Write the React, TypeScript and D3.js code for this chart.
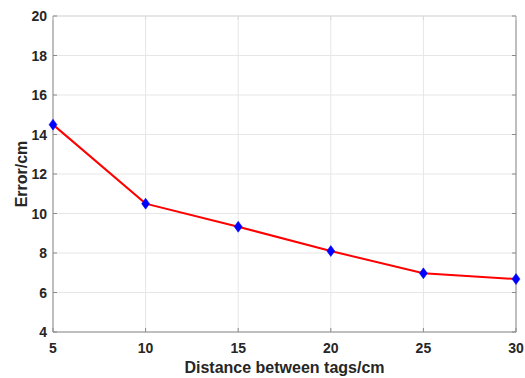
import React from 'react'
import * as d3 from 'd3'

const distances = [5, 10, 15, 20, 25, 30]
const errors = [14.5, 10.5, 9.33, 8.1, 6.97, 6.68]
const xTicks = [5, 10, 15, 20, 25, 30]
const yTicks = [4, 6, 8, 10, 12, 14, 16, 18, 20]

export default function App() {
  const W = 525
  const H = 378
  const margin = { top: 16, right: 9, bottom: 46, left: 53 }
  const iw = W - margin.left - margin.right
  const ih = H - margin.top - margin.bottom

  const x = d3.scaleLinear().domain([5, 30]).range([0, iw])
  const y = d3.scaleLinear().domain([4, 20]).range([ih, 0])

  const line = d3.line<number>()
    .x((d, i) => x(distances[i]))
    .y(d => y(d))

  const font = 'Arial, "Liberation Sans", sans-serif'

  return (
    <svg width={W} height={H} style={{ position: 'absolute', left: 0, top: 0, background: '#fff' }}>
      <g transform={`translate(${margin.left},${margin.top})`}>
        {/* grid */}
        {xTicks.map(t => (
          <line key={'gx' + t} x1={x(t)} x2={x(t)} y1={0} y2={ih} stroke="#e6e6e6" strokeWidth={1} />
        ))}
        {yTicks.map(t => (
          <line key={'gy' + t} x1={0} x2={iw} y1={y(t)} y2={y(t)} stroke="#e6e6e6" strokeWidth={1} />
        ))}
        {/* box */}
        <line x1={0} x2={iw} y1={0} y2={0} stroke="#d9d9d9" strokeWidth={1} />
        <line x1={iw} x2={iw} y1={0} y2={ih} stroke="#8a8a8a" strokeWidth={1} />
        <line x1={0} x2={0} y1={0} y2={ih} stroke="#8a8a8a" strokeWidth={1} />
        <line x1={0} x2={iw} y1={ih} y2={ih} stroke="#8a8a8a" strokeWidth={1} />
        {/* ticks */}
        {xTicks.map(t => (
          <g key={'tx' + t}>
            <line x1={x(t)} x2={x(t)} y1={ih} y2={ih - 4} stroke="#8a8a8a" />
            <line x1={x(t)} x2={x(t)} y1={0} y2={4} stroke="#d9d9d9" />
            <text x={x(t)} y={ih + 21} textAnchor="middle" fontFamily={font} fontWeight="bold" fontSize={14} fill="#262626">{t}</text>
          </g>
        ))}
        {yTicks.map(t => (
          <g key={'ty' + t}>
            <line x1={0} x2={4} y1={y(t)} y2={y(t)} stroke="#8a8a8a" />
            <line x1={iw} x2={iw - 4} y1={y(t)} y2={y(t)} stroke="#8a8a8a" />
            <text x={-6} y={y(t)} dy="0.36em" textAnchor="end" fontFamily={font} fontWeight="bold" fontSize={14} fill="#262626">{t}</text>
          </g>
        ))}
        {/* data */}
        <path d={line(errors) || ''} fill="none" stroke="#ff0000" strokeWidth={2} />
        {errors.map((e, i) => (
          <path key={'m' + i}
            d="M0,-5.5L4,0L0,5.5L-4,0Z"
            transform={`translate(${x(distances[i])},${y(e)})`}
            fill="#0000ff" stroke="#0000ff" strokeWidth={0.5} />
        ))}
      </g>
      <text x={margin.left + iw / 2} y={373} textAnchor="middle" fontFamily={font} fontWeight="bold" fontSize={16} fill="#262626">Distance between tags/cm</text>
      <text transform={`translate(27,${margin.top + ih / 2}) rotate(-90)`} textAnchor="middle" fontFamily={font} fontWeight="bold" fontSize={16} fill="#262626">Error/cm</text>
    </svg>
  )
}
